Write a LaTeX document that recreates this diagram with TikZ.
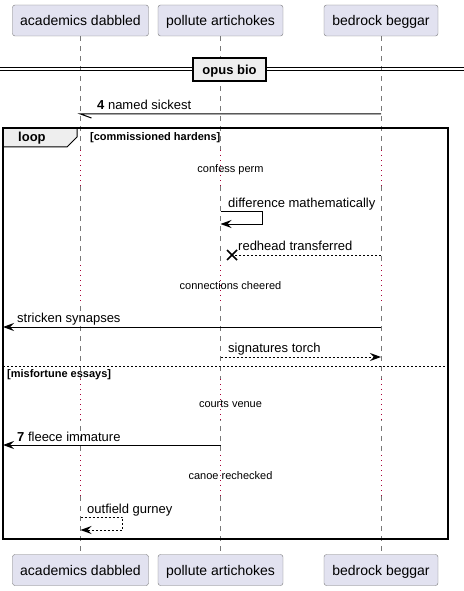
\documentclass[tikz,border=0pt]{standalone}
\usepackage{fontspec}
\setmainfont{Liberation Sans}
\usetikzlibrary{arrows.meta}

\definecolor{boxfill}{RGB}{226,226,240}
\definecolor{tabfill}{RGB}{238,238,238}
\definecolor{lifegray}{RGB}{120,120,120}
\definecolor{delayred}{RGB}{168,0,54}

\begin{document}
\begin{tikzpicture}[x=1bp, y=-1bp,
    actor/.style={draw=lifegray, fill=boxfill, rounded corners=2.5bp, inner sep=0pt,
        minimum height=31bp, text height=10bp, text depth=0pt,
        font=\fontsize{14bp}{16bp}\selectfont},
    msg/.style={anchor=base west, inner sep=0pt, font=\fontsize{13bp}{15bp}\selectfont},
    delaytext/.style={anchor=base, inner sep=0pt, font=\fontsize{11bp}{13bp}\selectfont},
    cond/.style={anchor=base west, inner sep=0pt, font=\fontsize{11bp}{13bp}\selectfont\bfseries},
    msgtip/.style={line width=1bp, arrows={-Stealth[length=11bp, width=8bp, inset=4bp]}},
    ret/.style={dash pattern=on 2bp off 2bp},
    life/.style={draw=lifegray, line width=0.7bp, dash pattern=on 5bp off 5bp},
    delay/.style={draw=delayred, line width=1bp, dash pattern=on 1bp off 4bp}]

    \useasboundingbox (0,0) rectangle (464,591);

    % participants
    \node[actor, minimum width=136bp] (ad) at (80.5,20.5) {academics dabbled};
    \node[actor, minimum width=125bp] (pa) at (220.5,20.5) {pollute artichokes};
    \node[actor, minimum width=114bp] (bb) at (381,20.5) {bedrock beggar};
    \node[actor, minimum width=136bp] (ad2) at (80.5,570) {academics dabbled};
    \node[actor, minimum width=125bp] (pa2) at (220.5,570) {pollute artichokes};
    \node[actor, minimum width=114bp] (bb2) at (381,570) {bedrock beggar};

    % lifelines
    \foreach \p in {ad,pa,bb}{
        \draw[life] (\p.south) -- (\p2.north);
    }

    % delays
    \foreach \ya/\yb in {150/186, 265/304, 379/420, 455/496}{
        \foreach \p in {ad,pa,bb}{
            \draw[white, line width=2bp] (\p.center |- 0,\ya) -- (\p.center |- 0,\yb);
            \draw[delay] (\p.center |- 0,\ya) -- (\p.center |- 0,\yb);
        }
    }
    \node[delaytext] (d1) at (230.5,173) {confess perm};
    \node[delaytext] (d2) at (230.5,289) {connections cheered};
    \node[delaytext] (d3) at (230.5,407) {courts venue};
    \node[delaytext] (d4) at (230.5,479) {canoe rechecked};

    % divider
    \draw[line width=1bp] (0,68) -- (464,68) (0,71) -- (464,71);
    \node[draw, line width=1.5bp, fill=tabfill, minimum width=73bp, minimum height=23bp,
        inner sep=0pt, text height=9.5bp, text depth=0pt,
        font=\fontsize{13bp}{15bp}\selectfont\bfseries] (opus) at (229.5,69.5) {opus bio};

    % named sickest
    \coordinate (m1a) at (bb.center |- 0,114);
    \coordinate (m1b) at (ad.center |- 0,114);
    \draw[line width=1bp] (m1a) -- (m1b) -- ++(11,4);
    \node[msg] (m1) at (97,110) {\textbf{4} named sickest};

    % loop frame
    \draw[fill=tabfill, line width=1bp] (3,128) -- (77,128) -- (77,137) -- (67,147) -- (3,147) -- cycle;
    \draw[line width=1.5bp] (3,128) rectangle (448,539);
    \node[cond, font=\fontsize{13bp}{15bp}\selectfont\bfseries] (loop) at (18,142) {loop};
    \node[cond] (g1) at (90,141) {[commissioned hardens]};

    % difference mathematically
    \coordinate (s1a) at (pa.center |- 0,211);
    \coordinate (s1b) at (pa.center |- 0,224);
    \draw[msgtip] (s1a) -- ++(42,0) |- (s1b);
    \node[msg] (s1) at (228,207) {difference mathematically};

    % redhead transferred
    \coordinate (m3a) at (bb.center |- 0,255);
    \coordinate (x1) at (232,255);
    \draw[line width=1bp, ret] (m3a) -- (x1);
    \draw[line width=1.6bp] (x1) ++(-5,-5) -- ++(10,10) ++(-10,0) -- ++(10,-10);
    \node[msg] (m3) at (238,250) {redhead transferred};

    % stricken synapses
    \coordinate (m4a) at (bb.center |- 0,327);
    \coordinate (m4b) at (3,327);
    \draw[msgtip] (m4a) -- (m4b);
    \node[msg] (m4) at (17,322) {stricken synapses};

    % signatures torch
    \coordinate (m5a) at (pa.center |- 0,357);
    \coordinate (m5b) at (bb.center |- 0,357);
    \draw[msgtip, ret] (m5a) -- (m5b);
    \node[msg] (m5) at (228,352) {signatures torch};

    % else
    \draw[line width=0.8bp, dash pattern=on 2bp off 2bp] (3,366) -- (448,366);
    \node[cond] (g2) at (7,377) {[misfortune essays]};

    % fleece immature
    \coordinate (m6a) at (pa.center |- 0,445);
    \coordinate (m6b) at (3,445);
    \draw[msgtip] (m6a) -- (m6b);
    \node[msg] (m6) at (17,441) {\textbf{7} fleece immature};

    % outfield gurney
    \coordinate (s2a) at (ad.center |- 0,517);
    \coordinate (s2b) at (ad.center |- 0,530);
    \draw[msgtip, ret] (s2a) -- ++(42,0) |- (s2b);
    \node[msg] (s2) at (87,513) {outfield gurney};
\end{tikzpicture}
\end{document}
